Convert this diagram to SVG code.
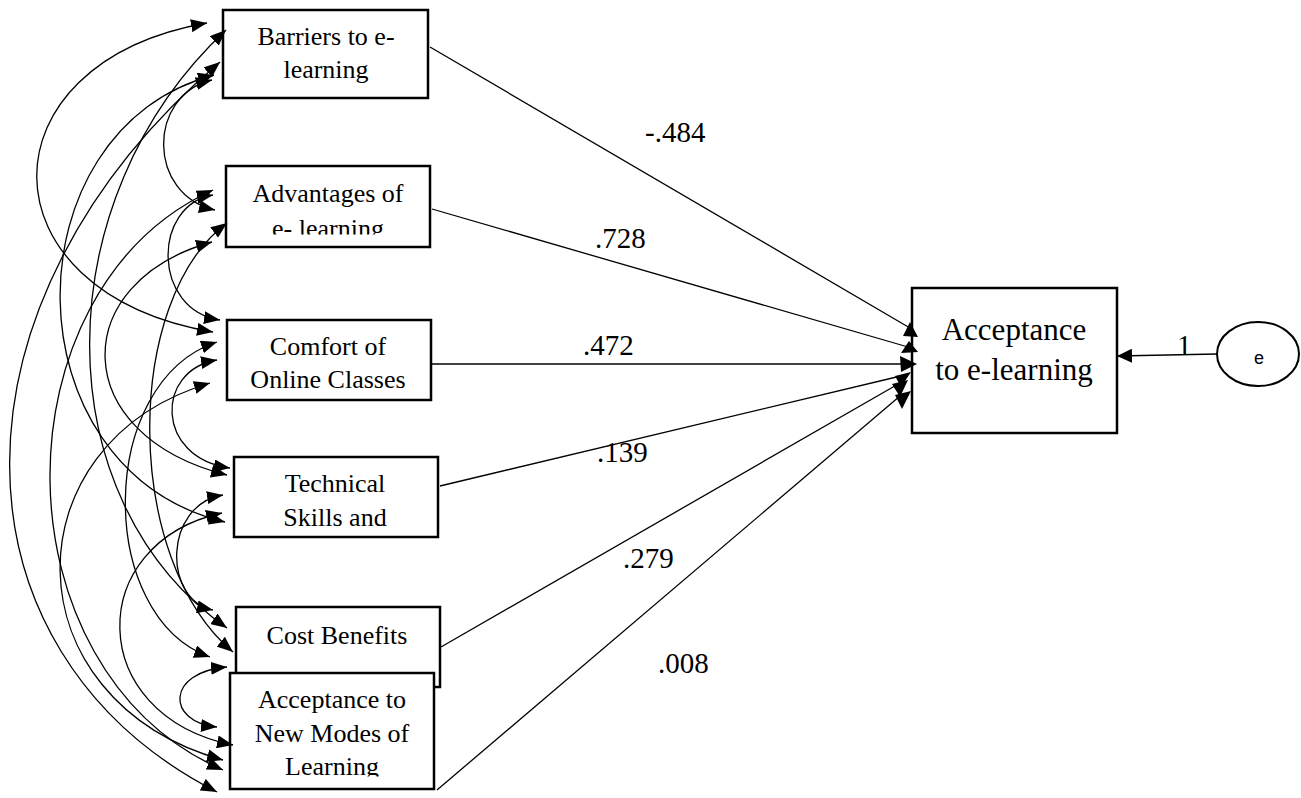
<svg xmlns="http://www.w3.org/2000/svg" width="1301" height="798" viewBox="0 0 1301 798">
<style>
.box{fill:#fff;stroke:#000;stroke-width:2.5}
.t{font-family:"Liberation Serif","Times New Roman",serif;font-size:26px;fill:#000;text-anchor:middle}
.big{font-family:"Liberation Serif","Times New Roman",serif;font-size:31px;fill:#000;text-anchor:middle}
.lbl{font-family:"Liberation Serif","Times New Roman",serif;font-size:29px;fill:#000}
.cov{fill:none;stroke:#000;stroke-width:1.3;marker-start:url(#ah);marker-end:url(#ah)}
.path{fill:none;stroke:#000;stroke-width:1.3}
</style>
<defs>
<marker id="ah" viewBox="0 0 16 13" refX="16" refY="6.5" markerWidth="16" markerHeight="13" markerUnits="userSpaceOnUse" orient="auto-start-reverse">
<path d="M0,0 L16,6.5 L0,13 z" fill="#000"/>
</marker>
<marker id="ah1" viewBox="0 0 15 14" refX="15" refY="7" markerWidth="15" markerHeight="14" markerUnits="userSpaceOnUse" orient="auto">
<path d="M0,0 L15,7 L0,14 z" fill="#000"/>
</marker>
<clipPath id="clipA"><rect x="226" y="166" width="204" height="68.5"/></clipPath>
<clipPath id="clipN"><rect x="230" y="673" width="204" height="103.5"/></clipPath>
</defs>
<rect width="1301" height="798" fill="#fff"/>

<g id="node-barriers">
<rect class="box" x="223" y="10" width="205" height="88"/>
<text class="t" x="326" y="45">Barriers to e-</text>
<text class="t" x="326" y="78">learning</text>
</g>
<g id="node-advantages">
<rect class="box" x="226" y="166" width="204" height="81"/>
<g clip-path="url(#clipA)">
<text class="t" x="328" y="202">Advantages of</text>
<text class="t" x="328" y="237">e- learning</text>
</g>
</g>
<g id="node-comfort">
<rect class="box" x="227" y="320" width="204" height="80"/>
<text class="t" x="328" y="355">Comfort of</text>
<text class="t" x="328" y="388">Online Classes</text>
</g>
<g id="node-technical">
<rect class="box" x="234" y="457" width="204" height="80"/>
<text class="t" x="335" y="492">Technical</text>
<text class="t" x="335" y="526">Skills and</text>
</g>
<g id="node-cost">
<rect class="box" x="236" y="607" width="204" height="80"/>
<text class="t" x="337" y="644">Cost Benefits</text>
</g>
<g id="node-newmodes">
<rect class="box" x="230" y="673" width="204" height="116"/>
<g clip-path="url(#clipN)">
<text class="t" x="332" y="708">Acceptance to</text>
<text class="t" x="332" y="742">New Modes of</text>
<text class="t" x="332" y="775">Learning</text>
</g>
</g>
<g id="node-acceptance">
<rect class="box" x="912" y="288" width="205" height="145"/>
<text class="big" x="1014" y="340">Acceptance</text>
<text class="big" x="1014" y="380">to e-learning</text>
</g>
<g id="node-e">
<ellipse cx="1258" cy="354" rx="41" ry="32" fill="#fff" stroke="#000" stroke-width="2"/>
<text x="1259" y="364" font-family="'Liberation Sans',Arial,sans-serif" font-size="18" text-anchor="middle">e</text>
</g>

<g id="connectors">
<path class="cov" d="M212,80 C147,95 147,195 215,210"/>
<path class="cov" d="M207,23 C-21,63 -21,292 213,332"/>
<path class="cov" d="M214,75 C7,130 7,470 225,522"/>
<path class="cov" d="M226,30 C44,200 44,500 227,628"/>
<path class="cov" d="M220,62 C-60,300 -60,650 217,792"/>
<path class="cov" d="M213,195 C152,205 152,310 220,320"/>
<path class="cov" d="M212,242 C67,282 67,435 227,475"/>
<path class="cov" d="M227,223 C123,300 123,560 233,652"/>
<path class="cov" d="M213,190 C-6,290 -6,670 223,770"/>
<path class="cov" d="M217,360 C155,370 155,458 230,468"/>
<path class="cov" d="M217,342 C96,382 96,617 210,657"/>
<path class="cov" d="M210,383 C8,443 8,700 223,760"/>
<path class="cov" d="M223,495 C163,505 163,600 213,610"/>
<path class="cov" d="M222,513 C84,543 84,715 233,745"/>
<path class="cov" d="M227,667 C166,672 166,722 217,727"/>
<line class="path" x1="430" y1="47" x2="910" y2="328"/>
<line class="path" x1="432" y1="209" x2="908" y2="347"/>
<line class="path" x1="431" y1="364" x2="912" y2="364"/>
<line class="path" x1="440" y1="486" x2="905" y2="375"/>
<line class="path" x1="441" y1="647" x2="900" y2="383"/>
<line class="path" x1="437" y1="790" x2="900" y2="396"/>
<polygon points="910,322 903,336 918,337"/>
<polygon points="909,341 901,353 918,352"/>
<polygon points="900,356 917,364 901,372"/>
<polygon points="895,376 911,372 901,387"/>
<polygon points="892,384 908,380 900,397"/>
<polygon points="895,395 911,391 902,409"/>
<line class="path" x1="1217" y1="354" x2="1117" y2="356" marker-end="url(#ah1)"/>
</g>

<g id="labels">
<text class="lbl" x="645" y="142">-.484</text>
<text class="lbl" x="595" y="248">.728</text>
<text class="lbl" x="583" y="355">.472</text>
<text class="lbl" x="597" y="462">.139</text>
<text class="lbl" x="623" y="568">.279</text>
<text class="lbl" x="658" y="673">.008</text>
<text class="lbl" x="1177" y="355">1</text>
</g>
</svg>
